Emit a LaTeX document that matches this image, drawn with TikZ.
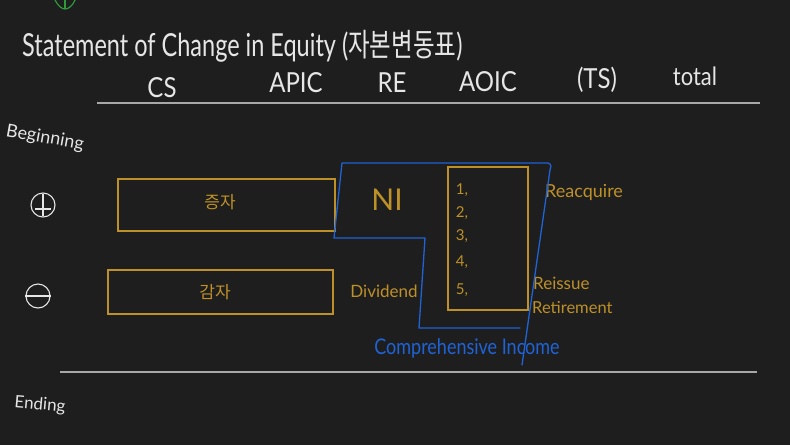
\documentclass[tikz,border=0pt]{standalone}
\usepackage{fontspec}
\setmainfont{Lato}
\newfontfamily\kr{Noto Sans CJK KR}
\definecolor{bg}{HTML}{1E1E1E}
\definecolor{ink}{HTML}{E6E6E6}
\definecolor{rule}{HTML}{A8A8A8}
\definecolor{gold}{HTML}{BE9128}
\definecolor{pen}{HTML}{1F63D6}
\definecolor{greenmark}{HTML}{2E9A3A}
\begin{document}
\begin{tikzpicture}[x=1pt,y=-1pt,
  wtext/.style={text=ink,inner sep=0pt},
  gtext/.style={text=gold,inner sep=0pt},
  goldbox/.style={draw=gold,line width=1.2pt,inner sep=0pt},
  sign/.style={draw=ink,circle,line width=1.1pt,minimum size=24pt,inner sep=0pt},
  penline/.style={draw=pen,line width=1.3pt,line join=round,line cap=round},
  hrule/.style={draw=rule,line width=1.6pt}]
\fill[bg] (0,0) rectangle (790,445);
\useasboundingbox (0,0) rectangle (790,445);
% green mark at top
\draw[draw=greenmark,line width=1.2pt,line cap=round] (55,0) .. controls (58,6) and (62,9) .. (65,9) .. controls (69,9) and (73,5) .. (75,0);
\draw[draw=greenmark,line width=1.2pt] (65,0) -- (65,9);
% title
\node[wtext,anchor=base west,font=\fontsize{23.5}{26}\selectfont] (title) at (22,56) {\scalebox{1}[1.35]{Statement of Change in Equity ({\kr 자본변동표})}};
% column headers
\node[wtext,font=\fontsize{24}{26}\selectfont] (cs) at (162,88) {\scalebox{1}[1.15]{CS}};
\node[wtext,font=\fontsize{24}{26}\selectfont] (apic) at (296,83) {\scalebox{1}[1.15]{APIC}};
\node[wtext,font=\fontsize{24}{26}\selectfont] (re) at (392,83) {\scalebox{1}[1.15]{RE}};
\node[wtext,font=\fontsize{24}{26}\selectfont] (aoic) at (488,82) {\scalebox{1}[1.15]{AOIC}};
\node[wtext,font=\fontsize{24}{26}\selectfont] (ts) at (597,80) {\scalebox{1}[1.15]{(TS)}};
\node[wtext,font=\fontsize{22}{24}\selectfont] (total) at (695,76) {\scalebox{1}[1.15]{total}};
% rules
\coordinate (r1a) at (97,103); \coordinate (r1b) at (760,103);
\coordinate (r2a) at (60,372); \coordinate (r2b) at (757,372);
\draw[hrule] (r1a) -- (r1b);
\draw[hrule] (r2a) -- (r2b);
% row labels
\node[wtext,font=\fontsize{18}{20}\selectfont,rotate=-10] (beg) at (45,138) {Beginning};
\node[wtext,font=\fontsize{17}{19}\selectfont,rotate=-5] (end) at (40,405) {Ending};
\node[sign] (plus) at (43,205) {};
\draw[ink,line width=1.1pt] ([yshift=-2pt]plus.north) -- ([yshift=2pt]plus.south);
\draw[ink,line width=1.1pt] ([xshift=5pt,yshift=-4pt]plus.west) -- ([xshift=-5pt,yshift=-4pt]plus.east);
\node[sign] (minus) at (38,296) {};
\draw[ink,line width=1.1pt] (minus.west) -- (minus.east);
% gold boxes
\node[goldbox,minimum width=217pt,minimum height=52pt] (inc) at (226.5,205) {};
\node[gtext,font=\kr\fontsize{17}{19}\selectfont] at (220,202) {증자};
\node[goldbox,minimum width=225pt,minimum height=44pt] (dec) at (220.5,292) {};
\node[gtext,font=\kr\fontsize{17}{19}\selectfont] at (215,292) {감자};
\node[goldbox,minimum width=80pt,minimum height=143pt] (tsbox) at (488,238.5) {};
% gold labels
\node[gtext,font=\fontsize{30}{32}\selectfont] (ni) at (387,200) {NI};
\node[gtext,font=\fontsize{17}{19}\selectfont] (div) at (384,291) {Dividend};
\node[gtext,font=\fontsize{18}{20}\selectfont,anchor=west] (reacq) at (545,192) {Reacquire};
\node[gtext,font=\fontsize{17}{19}\selectfont,anchor=west] (reiss) at (533,283) {Reissue};
\node[gtext,font=\fontsize{16.5}{18}\selectfont,anchor=west] (retir) at (532,308) {Retirement};
\foreach \n/\yy in {1/190,2/213,3/236,4/262,5/290}
  \node[gtext,font=\fontsize{15}{17}\selectfont] (n\n) at (462,\yy) {\n,};
% comprehensive income outline
\coordinate (c1) at (520,328); \coordinate (c2) at (419,328);
\coordinate (c3) at (425,238); \coordinate (c4) at (334,238);
\coordinate (c5) at (342,163); \coordinate (c6) at (548,163);
\coordinate (c7) at (522,365);
\draw[penline] (c1) -- (c2) -- (c3) -- (c4) -- (c5) -- (c6) .. controls (552,164) and (551,168) .. (550,170) -- (c7);
\node[text=pen,inner sep=0pt,font=\fontsize{18}{20}\selectfont] (ci) at (467,348) {\scalebox{1}[1.2]{Comprehensive Income}};
\end{tikzpicture}
\end{document}
